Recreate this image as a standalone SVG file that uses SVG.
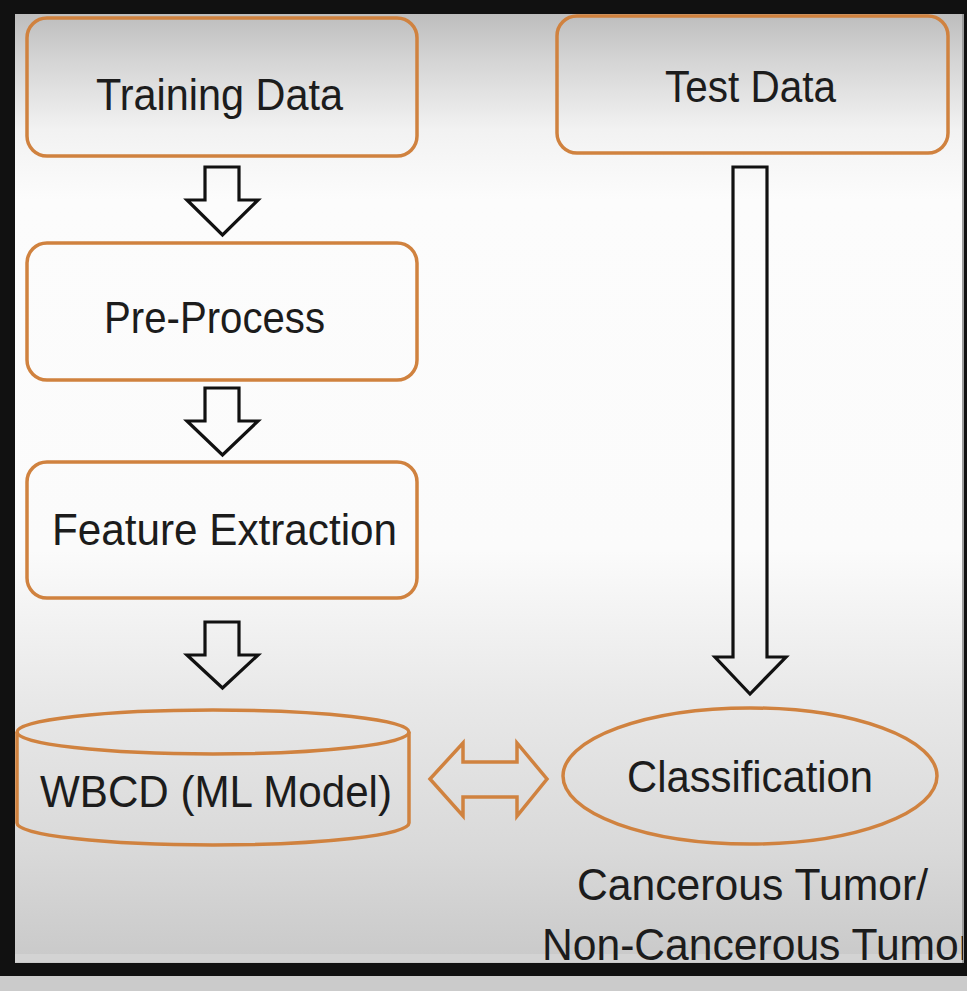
<svg xmlns="http://www.w3.org/2000/svg" width="967" height="991" viewBox="0 0 967 991">
<style>
.box{fill:none;stroke:#d0823f;stroke-width:3.5}
.oshape{fill:none;stroke:#d0823f;stroke-width:3.5;stroke-linejoin:miter}
.blk{fill:none;stroke:#111;stroke-width:3.2;stroke-linejoin:miter}
.lbl{font-family:"Liberation Sans",Arial,sans-serif;font-size:44px;fill:#1c1c1c}
</style>
<defs>
<linearGradient id="bg" x1="0" y1="14" x2="0" y2="963" gradientUnits="userSpaceOnUse">
<stop offset="0" stop-color="#bdbdbd"/>
<stop offset="0.048" stop-color="#d4d4d4"/>
<stop offset="0.122" stop-color="#f2f2f2"/>
<stop offset="0.196" stop-color="#fcfcfc"/>
<stop offset="0.565" stop-color="#fbfbfb"/>
<stop offset="0.723" stop-color="#e8e8e8"/>
<stop offset="0.881" stop-color="#d9d9d9"/>
<stop offset="1" stop-color="#c9c9c9"/>
</linearGradient>
<clipPath id="content"><rect x="15" y="14" width="948" height="949"/></clipPath>
</defs>
<rect x="0" y="0" width="967" height="991" fill="#111"/>
<rect x="0" y="976" width="967" height="15" fill="#cbcbcb"/>
<rect x="15" y="14" width="948" height="949" fill="url(#bg)"/>
<rect x="15" y="954" width="948" height="8" fill="#d3d3d3"/>
<rect x="962" y="14" width="2" height="949" fill="#9c9c9c"/>
<g clip-path="url(#content)">
<g id="training-data">
<rect class="box" x="27" y="18" width="390" height="138" rx="20"/>
<text class="lbl" x="219.5" y="110" text-anchor="middle" textLength="247" lengthAdjust="spacingAndGlyphs">Training Data</text>
</g>
<g id="test-data">
<rect class="box" x="557" y="16" width="391" height="137" rx="20"/>
<text class="lbl" x="750.5" y="102" text-anchor="middle" textLength="171" lengthAdjust="spacingAndGlyphs">Test Data</text>
</g>
<g id="pre-process">
<rect class="box" x="27" y="243" width="390" height="137" rx="20"/>
<text class="lbl" x="214.5" y="333" text-anchor="middle" textLength="221" lengthAdjust="spacingAndGlyphs">Pre-Process</text>
</g>
<g id="feature-extraction">
<rect class="box" x="27" y="462" width="390" height="136" rx="20"/>
<text class="lbl" x="224.5" y="545" text-anchor="middle" textLength="345" lengthAdjust="spacingAndGlyphs">Feature Extraction</text>
</g>
<g id="wbcd-model">
<path class="box" d="M17,732 L17,823 A196,22 0 0 0 409,823 L409,732"/>
<ellipse class="box" cx="213" cy="732" rx="196" ry="22"/>
<text class="lbl" x="216" y="807" text-anchor="middle" textLength="352" lengthAdjust="spacingAndGlyphs">WBCD (ML Model)</text>
</g>
<g id="classification">
<ellipse class="box" cx="750" cy="776" rx="187" ry="68"/>
<text class="lbl" x="750" y="792" text-anchor="middle" textLength="246" lengthAdjust="spacingAndGlyphs">Classification</text>
</g>
<g id="result-label">
<text class="lbl" x="752.5" y="900" text-anchor="middle" textLength="351" lengthAdjust="spacingAndGlyphs">Cancerous Tumor/</text>
<text class="lbl" x="542" y="960" textLength="431" lengthAdjust="spacingAndGlyphs">Non-Cancerous Tumor</text>
</g>
<g id="connectors">
<polygon class="blk" points="205,167 239,167 239,200 258,200 222.5,235 187,200 205,200"/>
<polygon class="blk" points="205,388 239,388 239,421 258,421 222.5,455 187,421 205,421"/>
<polygon class="blk" points="205,622 239,622 239,655 258,655 222.5,688 187,655 205,655"/>
<polygon class="blk" points="733,167 767,167 767,657 786,657 750,694 715,657 733,657"/>
<polygon class="oshape" points="430,779 463,743 463,762 517,762 517,743 547,779 517,816 517,797 463,797 463,816"/>
</g>
</g>
</svg>
